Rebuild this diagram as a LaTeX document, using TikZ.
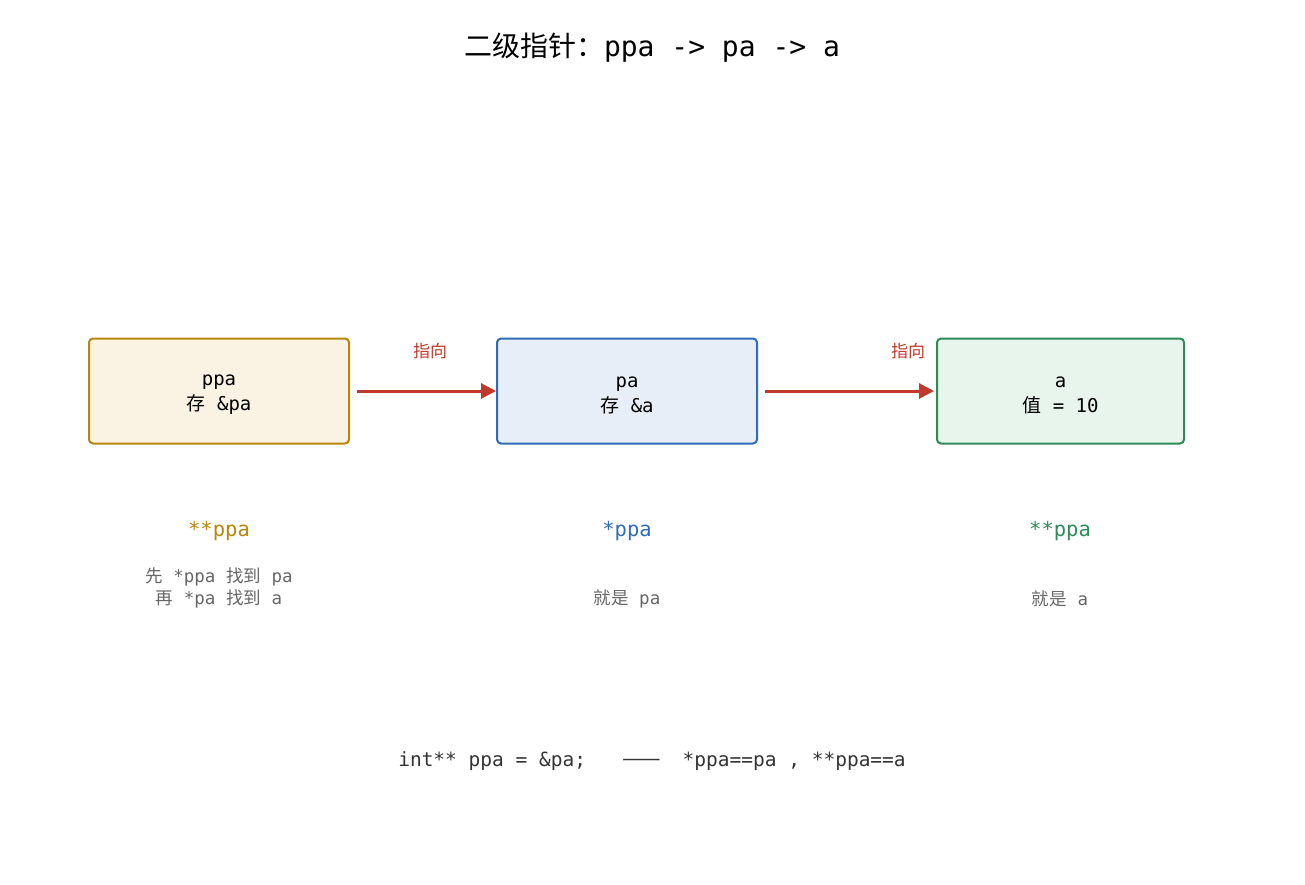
\documentclass[tikz,border=0pt]{standalone}
\usepackage{fontspec}
\setmainfont{DejaVu Sans Mono}
\newfontfamily\cjk{Noto Sans CJK SC}
\newcommand{\zh}[1]{{\cjk #1}}
\usepackage{tikz}
\usetikzlibrary{arrows.meta,positioning}

\definecolor{goldline}{HTML}{B8860B}
\definecolor{goldfill}{HTML}{FAF3E4}
\definecolor{blueline}{HTML}{2E6DB4}
\definecolor{bluefill}{HTML}{E8EEF8}
\definecolor{greenline}{HTML}{2E8B57}
\definecolor{greenfill}{HTML}{E8F5EC}
\definecolor{ptrred}{HTML}{C0392B}
\definecolor{notegray}{HTML}{666666}
\definecolor{codegray}{HTML}{333333}

\begin{document}
\begin{tikzpicture}[x=1pt,y=-1pt,
  varbox/.style={draw,rounded corners=4pt,line width=2pt,minimum height=105pt,
    align=center,font=\fontsize{19}{25}\selectfont,text=black!85},
  ptr/.style={-{Triangle[length=15pt,width=15pt]},line width=3pt,color=ptrred},
  ptrlabel/.style={font=\fontsize{17}{18}\selectfont\cjk,text=ptrred},
  deref/.style={font=\fontsize{20.5}{22}\selectfont},
  note/.style={font=\fontsize{17.5}{22}\selectfont,text=notegray,align=center}]

% canvas
\useasboundingbox (0,0) rectangle (1305,885);

% title
\node (title) at (652,48) {\fontsize{28}{30}\selectfont \zh{二级指针：}ppa -> pa -> a};

% the three variables (text nudged down a little)
\node[varbox,draw=goldline,fill=goldfill,minimum width=260pt] (ppa) at (219,391) {};
\node[varbox,draw=blueline,fill=bluefill,minimum width=260pt] (pa) at (627,391) {};
\node[varbox,draw=greenline,fill=greenfill,minimum width=247pt] (a) at (1060.5,391) {};
\node[align=center,font=\fontsize{19}{25}\selectfont] (ppatxt) at ([yshift=-4pt]ppa.center) {ppa\\\zh{存} \&pa};
\node[align=center,font=\fontsize{19}{25}\selectfont] (patxt) at ([yshift=-4pt]pa.center) {pa\\\zh{存} \&a};
\node[align=center,font=\fontsize{19}{25}\selectfont] (atxt) at ([yshift=-4pt]a.center) {a\\\zh{值} = 10};

% pointer arrows
\draw[ptr,shorten <=7pt] (ppa.east) -- (pa.west);
\draw[ptr,shorten <=7pt,shorten >=2pt] (pa.east) -- (a.west);
\node[ptrlabel] (lab1) at (430,351) {指向};
\node[ptrlabel] (lab2) at (908,351) {指向};

% dereference labels
\node[deref,text=goldline] (d1) at (219,531) {**ppa};
\node[deref,text=blueline] (d2) at (627,531) {*ppa};
\node[deref,text=greenline] (d3) at (1060,531) {**ppa};

\node[note] (n1) at (219,588) {\zh{先} *ppa \zh{找到} pa\\\zh{再} *pa \zh{找到} a};
\node[note] (n2) at (627,599) {\zh{就是} pa};
\node[note] (n3) at (1060,599) {\zh{就是} a};

% summary line
\node[font=\fontsize{19.5}{20}\selectfont,text=codegray] (code) at (652,761)
  {int** ppa = \&pa;\hspace{36pt}\zh{\fontsize{23}{20}\selectfont ——}\hspace{22pt}*ppa==pa , **ppa==a};

\end{tikzpicture}
\end{document}
